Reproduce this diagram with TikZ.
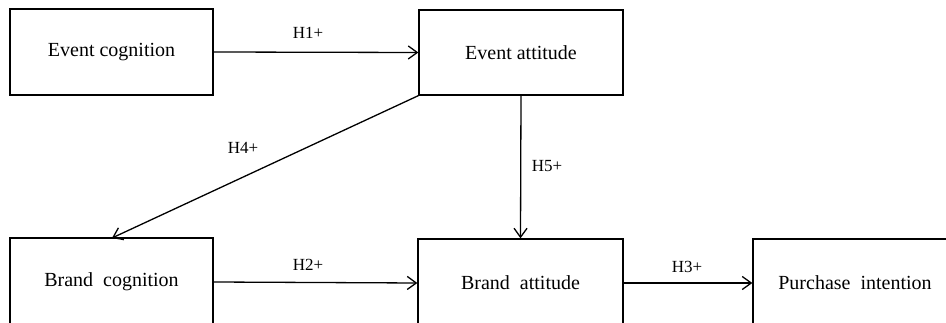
\documentclass[tikz,border=0pt]{standalone}
\usepackage{fontspec}
\setmainfont{Liberation Serif}
\usetikzlibrary{arrows.meta}
\begin{document}
\begin{tikzpicture}[x=1pt,y=-1pt,
  box/.style={draw=black, line width=1.3pt, minimum width=#1, minimum height=87pt, inner sep=0pt,
    font=\fontsize{20}{24}\selectfont},
  box/.default=204pt,
  conn/.style={line width=1.3pt, -{Straight Barb[length=9pt,width=13pt,line width=1.3pt]}},
  lab/.style={font=\fontsize{17}{20}\selectfont, inner sep=0pt}]
\useasboundingbox (0,0) rectangle (946,323);
\clip (0,0) rectangle (946,323);
\node[box=203pt, minimum height=86pt] (ec) at (111.5,52) {Event cognition};
\node[box=204pt, minimum height=85pt] (ea) at (521,52.5) {Event attitude};
\node[box=203pt, minimum height=88pt] (bc) at (111.5,282) {Brand \ cognition};
\node[box=205pt, minimum height=88pt] (ba) at (520.5,283) {Brand \ attitude};
\node[box=204pt, minimum height=88pt] (pi) at (855,283) {Purchase \ intention};
\coordinate (bcn) at (112,238);
\draw[conn] (ec.east) -- (ea.west);
\draw[conn] (ea.south west) -- (bcn);
\draw[conn] (ea.south) -- (ba.north);
\draw[conn] (bc.east) -- (ba.west);
\draw[conn] (ba.east) -- (pi.west);
\node[lab] (l1) at (308,33) {H1+};
\node[lab] (l4) at (243,148) {H4+};
\node[lab] (l5) at (547,166) {H5+};
\node[lab] (l2) at (308,265) {H2+};
\node[lab] (l3) at (687,267) {H3+};
\end{tikzpicture}
\end{document}
